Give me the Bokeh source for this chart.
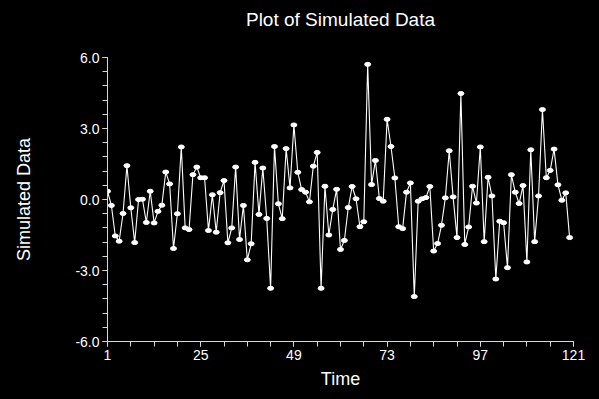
from bokeh.plotting import figure
from bokeh.models import Range1d, FixedTicker, ColumnDataSource, LinearAxis
from bokeh.embed import file_html
from bokeh.resources import INLINE

time = list(range(1, 121))
values = [0.35, -0.25, -1.54, -1.76, -0.59, 1.43, -0.35, -1.82, 0.00, 0.01,
          -0.97, 0.35, -0.99, -0.50, -0.24, 1.16, 0.66, -2.07, -0.60, 2.22,
          -1.20, -1.27, 1.05, 1.37, 0.92, 0.92, -1.31, 0.20, -1.38, 0.29,
          0.80, -1.83, -1.20, 1.37, -1.69, -0.25, -2.55, -1.87, 1.57, -0.63,
          1.33, -0.80, -3.75, 2.24, -0.18, -0.81, 2.15, 0.49, 3.15, 1.15,
          0.42, 0.31, -0.10, 1.41, 1.99, -3.75, 0.56, -1.50, -0.42, 0.43,
          -2.11, -1.73, -0.34, 0.55, 0.03, -1.15, -0.94, 5.71, 0.63, 1.65,
          0.04, -0.07, 3.39, 2.24, 0.91, -1.15, -1.23, 0.31, 0.70, -4.10,
          -0.07, 0.03, 0.08, 0.55, -2.18, -1.86, -1.09, 0.07, 2.06, 0.11,
          -1.61, 4.48, -1.90, -1.16, 0.56, -0.15, 2.22, -1.78, 0.94, 0.15,
          -3.36, -0.92, -0.98, -2.88, 1.05, 0.31, -0.17, 0.59, -2.64, 2.10,
          -1.78, 0.15, 3.80, 0.92, 1.23, 2.13, 0.62, -0.03, 0.28, -1.61]

title_text = "Plot of Simulated Data"
x_major = [1, 25, 49, 73, 97, 121]
x_minor = list(range(1, 122, 6))
y_major = [-6, -3, 0, 3, 6]
y_minor = [round(-6 + 0.6 * k, 1) for k in range(21)]
y_labels = {-6: "-6.0", -3: "-3.0", 0: "0.0", 3: "3.0", 6: "6.0"}

src = ColumnDataSource(dict(t=time, v=values))

FONT = "Liberation Sans"
p = figure(width=591, height=391, output_backend="svg", toolbar_location=None,
           x_range=Range1d(1, 121), y_range=Range1d(-6, 6),
           title=title_text,
           background_fill_color="black", border_fill_color="black",
           min_border_left=107, min_border_right=18, min_border_top=57, min_border_bottom=48)
p.outline_line_color = None
p.grid.visible = False

xax = p.below[0]
yax = p.left[0]

p.title.align = "center"
p.title.text_color = "white"
p.title.text_font = FONT
p.title.text_font_size = "19px"
p.title.text_font_style = "normal"
p.title.standoff = 0

for ax in (xax, yax):
    ax.axis_line_color = "#d8d8d8"
    ax.major_tick_line_color = "#d8d8d8"
    ax.minor_tick_line_color = "#d8d8d8"
    ax.major_tick_out = 5
    ax.major_tick_in = 0
    ax.minor_tick_out = 5
    ax.minor_tick_in = 0
    ax.major_label_text_color = "white"
    ax.major_label_text_font = FONT
    ax.major_label_text_font_size = "14px"
    ax.axis_label_text_color = "white"
    ax.axis_label_text_font = FONT
    ax.axis_label_text_font_size = "18px"
    ax.axis_label_text_font_style = "normal"

xax.ticker = FixedTicker(ticks=x_major, minor_ticks=x_minor)
yax.ticker = FixedTicker(ticks=y_major, minor_ticks=y_minor)
yax.major_label_overrides = y_labels
xax.axis_label = "Time"
yax.axis_label = "Simulated Data"
xax.major_label_standoff = 3
xax.axis_label_standoff = 6
yax.major_label_standoff = 3
yax.axis_label_standoff = 38

# empty spacer axis above the frame, pushes the title upwards
spacer = LinearAxis(ticker=FixedTicker(ticks=[], minor_ticks=[]), axis_line_color=None,
                    major_tick_line_color=None, minor_tick_line_color=None,
                    major_tick_out=0, minor_tick_out=0, major_label_standoff=0,
                    major_label_text_font_size="1px",
                    axis_label=" ", axis_label_text_font_size="18px",
                    axis_label_text_font=FONT, axis_label_standoff=5)
p.add_layout(spacer, "above")

p.line("t", "v", source=src, line_color="white", line_width=1.1)
p.ellipse("t", "v", source=src, width=6, height=4, width_units="screen",
          height_units="screen", fill_color="white", line_color="white")

html = file_html(p, INLINE, title=title_text)
html = html.replace("<head>", "<head><style>body{background:#000;}</style>", 1)
open("out.html", "w").write(html)
